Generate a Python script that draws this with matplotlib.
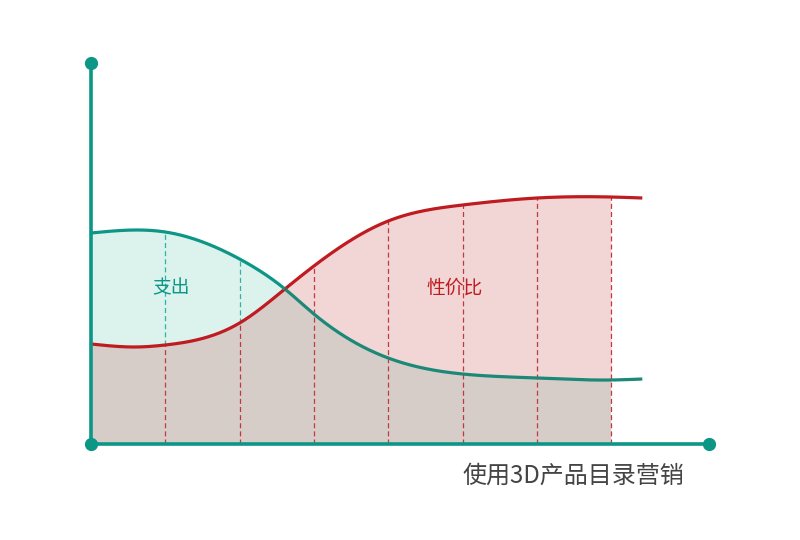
import matplotlib.pyplot as plt
import numpy as np

plt.rcParams['font.family'] = ['Noto Sans CJK SC', 'DejaVu Sans']

# values (x in column units, y in chart units)
xs = [0, 0.6, 1, 2, 2.61, 3, 4, 5, 6, 7, 7.42]
spend = [211, 214, 212, 185, 155, 130, 86, 70, 66, 64, 65]
value = [100, 97, 99, 121, 155, 178, 223, 239, 246, 247, 246]
cols = [1, 2, 3, 4, 5, 6, 7]
label_spend = '支出'
label_value = '性价比'
caption = '使用3D产品目录营销'

teal = '#0b9686'
teal_dark = '#1c8878'
red = '#bf1b21'


def smooth(x, y, n=800):
    # natural cubic spline through the read points
    x = np.asarray(x, float)
    y = np.asarray(y, float)
    k = len(x)
    h = np.diff(x)
    A = np.zeros((k, k))
    b = np.zeros(k)
    A[0, 0] = A[-1, -1] = 1
    for i in range(1, k - 1):
        A[i, i - 1] = h[i - 1]
        A[i, i] = 2 * (h[i - 1] + h[i])
        A[i, i + 1] = h[i]
        b[i] = 6 * ((y[i + 1] - y[i]) / h[i] - (y[i] - y[i - 1]) / h[i - 1])
    M = np.linalg.solve(A, b)
    xx = np.linspace(x[0], x[-1], n)
    i = np.clip(np.searchsorted(x, xx) - 1, 0, k - 2)
    a = x[i + 1] - xx
    c = xx - x[i]
    hi = h[i]
    yy = (M[i] * a**3 + M[i + 1] * c**3) / (6 * hi) \
        + (y[i] / hi - M[i] * hi / 6) * a + (y[i + 1] / hi - M[i + 1] * hi / 6) * c
    return xx, yy


fx, fs = smooth(xs, spend)
_, fv = smooth(xs, value)

fig = plt.figure(figsize=(8, 5.4), dpi=100)
ax = fig.add_axes([0, 0, 1, 1])
unit = 74.3
ax.set_xlim(-91 / unit, (800 - 91) / unit)
ax.set_ylim(-96, 444)
ax.axis('off')

inside = fx <= cols[-1] + 1e-9
low = np.minimum(fs, fv)
ax.fill_between(fx, 0, low, where=inside, color='#d6cdc9', lw=0, zorder=1)
ax.fill_between(fx, fv, fs, where=inside & (fs >= fv), color='#dcf2ec', lw=0, zorder=1, interpolate=True)
ax.fill_between(fx, fs, fv, where=inside & (fv > fs), color='#f2d6d6', lw=0, zorder=1, interpolate=True)

# dashed column lines
for c in cols:
    s = np.interp(c, fx, fs)
    v = np.interp(c, fx, fv)
    ax.plot([c, c], [0, v], color='#c0393e', lw=0.9, ls=(0, (4, 2.5)), zorder=2)
    if s > v:
        ax.plot([c, c], [v, s], color='#2fb3a3', lw=0.9, ls=(0, (4, 2.5)), zorder=2)

ax.plot(fx, fv, color=red, lw=2.3, zorder=3, solid_capstyle='butt')
ax.plot(fx[fs >= fv], fs[fs >= fv], color=teal, lw=2.3, zorder=4, solid_capstyle='butt')
ax.plot(fx[fs <= fv], fs[fs <= fv], color=teal_dark, lw=2.3, zorder=4, solid_capstyle='butt')

# axes with end dots
x_end = (709 - 91) / unit
y_end = 381
ax.plot([0, 0], [0, y_end], color=teal, lw=2.6, zorder=5)
ax.plot([0, x_end], [0, 0], color=teal, lw=2.6, zorder=5)
ax.plot([0, 0, x_end], [y_end, 0, 0], 'o', color=teal, ms=8.5, zorder=6)

ax.text((171 - 91) / unit, 156, label_spend, color=teal, fontsize=13.5,
        ha='center', va='center', zorder=7)
ax.text((455 - 91) / unit, 156, label_value, color=red, fontsize=13.5,
        ha='center', va='center', zorder=7)
ax.text((573 - 91) / unit, -32, caption, color='#444444', fontsize=17.3,
        ha='center', va='center', zorder=7)

fig.savefig('out.png', dpi=100)
